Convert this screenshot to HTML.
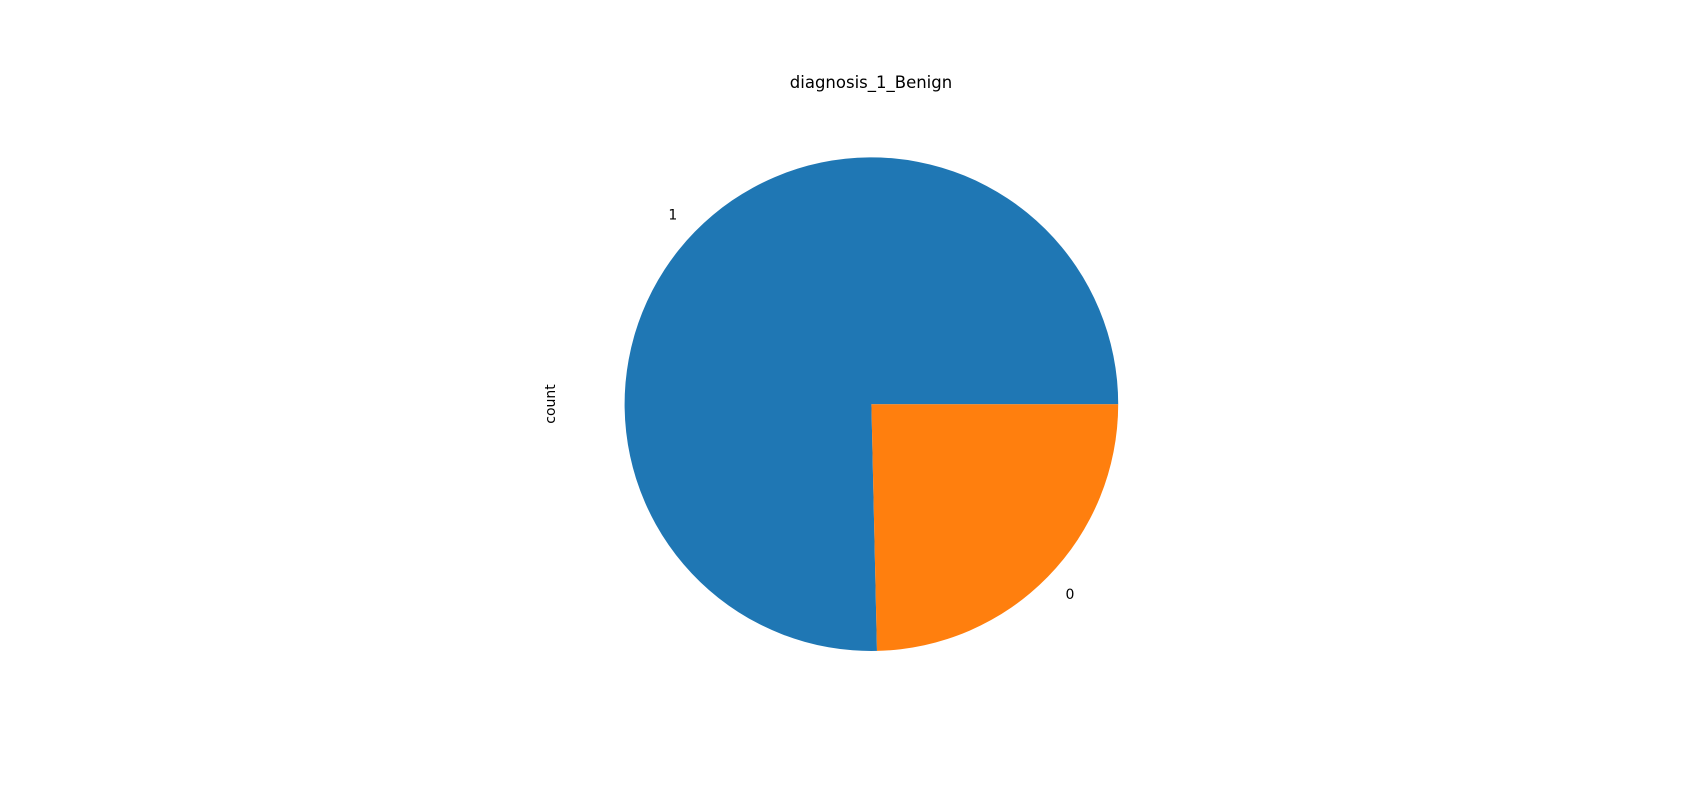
<!DOCTYPE html>
<html><head><meta charset="utf-8"><style>
html,body{margin:0;padding:0;background:#fff;}
svg{display:block;font-family:"DejaVu Sans","Liberation Sans",sans-serif;}
</style></head><body>
<svg id="chart" width="1700" height="800" viewBox="0 0 1700 800">
<rect width="1700" height="800" fill="#fff"/>
<text x="871" y="88" font-size="16.5" text-anchor="middle" fill="#000">diagnosis_1_Benign</text>
<text transform="translate(555,404) rotate(-90)" font-size="14" text-anchor="middle" fill="#000">count</text>
<g id="slices"></g>
</svg>
<script>
const categories = ["1", "0"];
const values = [0.7536, 0.2464];
const colors = ["#1f77b4", "#ff7f0e"];

const cx = 871.4, cy = 404.2, r = 246.8;
const g = document.getElementById('slices');
const ns = 'http://www.w3.org/2000/svg';
const total = values.reduce((a, b) => a + b, 0);
let start = 0;
values.forEach((v, i) => {
  const sweep = v / total * 2 * Math.PI;
  const end = start + sweep;
  const x1 = cx + r * Math.cos(start), y1 = cy - r * Math.sin(start);
  const x2 = cx + r * Math.cos(end), y2 = cy - r * Math.sin(end);
  const large = sweep > Math.PI ? 1 : 0;
  const p = document.createElementNS(ns, 'path');
  p.setAttribute('d', `M${cx},${cy} L${x1},${y1} A${r},${r} 0 ${large} 0 ${x2},${y2} Z`);
  p.setAttribute('fill', colors[i]);
  
  
  g.appendChild(p);
  const mid = start + sweep / 2;
  const lx = cx + 1.1 * r * Math.cos(mid), ly = cy - 1.1 * r * Math.sin(mid);
  const t = document.createElementNS(ns, 'text');
  t.setAttribute('x', lx);
  t.setAttribute('y', ly + 5);
  t.setAttribute('font-size', '14');
  t.setAttribute('text-anchor', Math.cos(mid) < 0 ? 'end' : 'start');
  t.textContent = categories[i];
  
  
  g.appendChild(t);
  start = end;
});
</script>
</body></html>
